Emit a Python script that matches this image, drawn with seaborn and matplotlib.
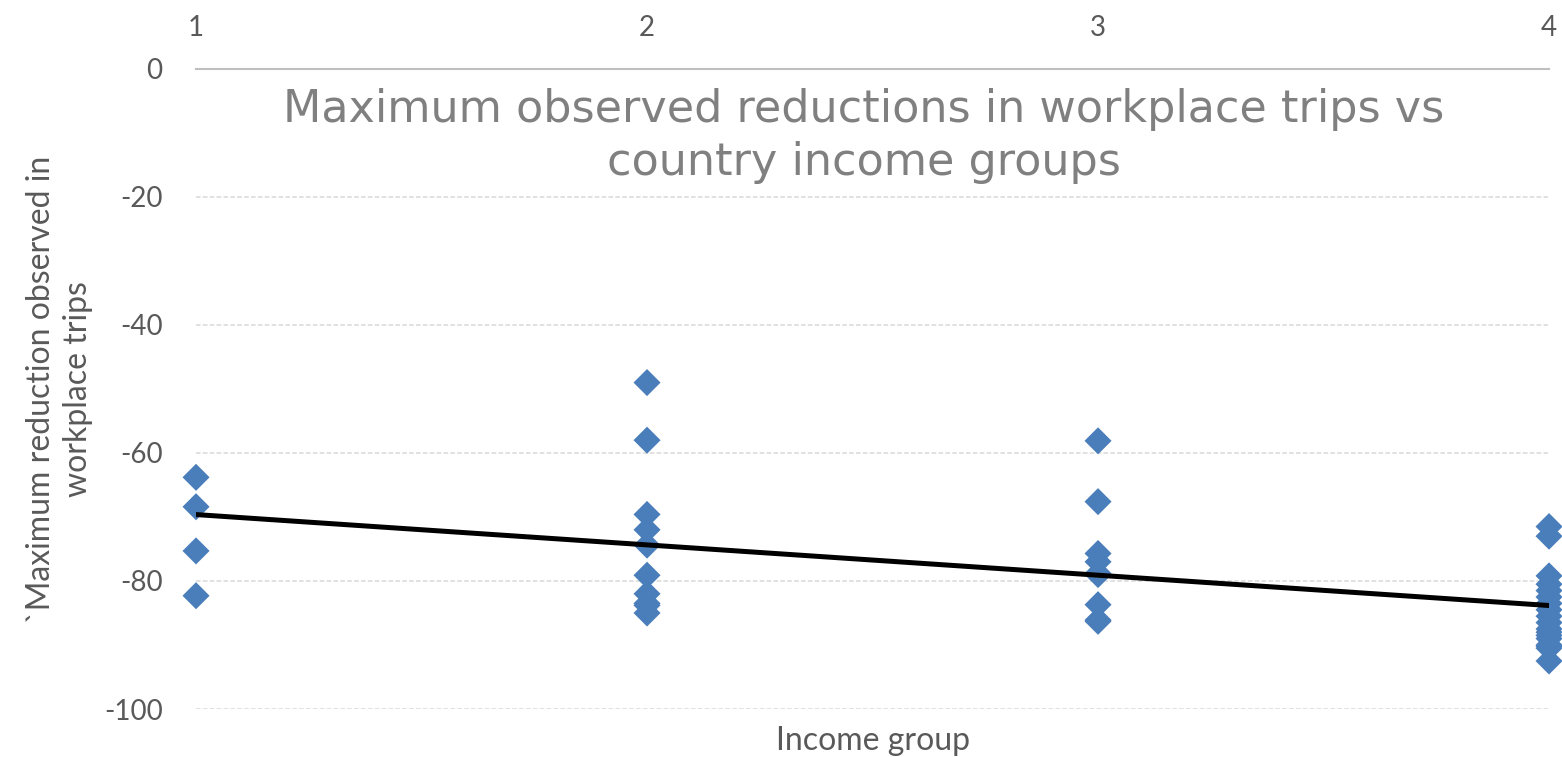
import matplotlib
matplotlib.use("Agg")
import matplotlib.pyplot as plt
import seaborn as sns
import pandas as pd

# Maximum observed reduction in workplace trips (%) by country income group
# (several countries overlap at nearly the same value)
group_1 = [-63.8, -68.4, -75.3, -82.3]
group_2 = [-49.0, -58.0, -69.6, -72.0, -74.4, -79.1, -82.0, -83.5, -83.8,
           -85.0]
group_3 = [-58.1, -67.6, -75.7, -77.0, -78.8, -79.0, -83.7, -86.1, -86.3]
group_4 = [-71.5, -73.0, -79.2, -80.5, -81.5, -82.5, -83.5, -84.5, -85.5,
           -86.5, -87.5, -88.0, -88.5, -89.0, -90.0, -90.2, -90.5, -92.5]
income_groups = [1, 2, 3, 4]
y_ticks = [0, -20, -40, -60, -80, -100]

rows = []
for g, vals in zip(income_groups, [group_1, group_2, group_3, group_4]):
    rows += [(g, v) for v in vals]
df = pd.DataFrame(rows, columns=["income_group", "reduction"])

sns.set_theme(style="white")
plt.rcParams["font.family"] = ["Lato", "DejaVu Sans"]
plt.rcParams["axes.unicode_minus"] = False

fig = plt.figure(figsize=(15.62, 7.57), dpi=100)
ax = fig.add_axes([0.1255, 0.0634, 0.8662, 0.8455])

sns.scatterplot(data=df, x="income_group", y="reduction", marker="D", s=190,
                color="#4a7ebb", edgecolor="none", ax=ax, clip_on=False, zorder=3)
sns.regplot(data=df, x="income_group", y="reduction", scatter=False, ci=None,
            color="black", line_kws={"linewidth": 3.6, "zorder": 4}, ax=ax)

ax.set_xlim(1, 4)
ax.set_ylim(-100, 0)
ax.set_xticks(income_groups)
ax.set_yticks(y_ticks)
ax.xaxis.tick_top()
ax.tick_params(axis="x", length=0, pad=20, labelsize=20, labelcolor="#595959")
ax.tick_params(axis="y", length=0, pad=24, labelsize=20, labelcolor="#595959")

for s in ["left", "right", "bottom"]:
    ax.spines[s].set_visible(False)
ax.spines["top"].set_color("#bfbfbf")
ax.spines["top"].set_linewidth(1.5)

for yv in y_ticks[1:]:
    ax.axhline(yv, color="#d9d9d9", linewidth=1.1, linestyle=(0, (3, 1.5)), zorder=1)

ax.set_xlabel("Income group", fontsize=23, color="#595959", labelpad=12)
ax.set_ylabel("`Maximum reduction observed in\nworkplace trips", fontsize=23,
              color="#595959", linespacing=1.3)
ax.yaxis.set_label_coords(-0.076, 0.5)

fig.text(0.553, 0.820, "Maximum observed reductions in workplace trips vs\ncountry income groups",
         ha="center", va="center", fontsize=32, color="#808080",
         family="DejaVu Sans", linespacing=1.3)

fig.savefig("out.png", dpi=100, facecolor="white")
